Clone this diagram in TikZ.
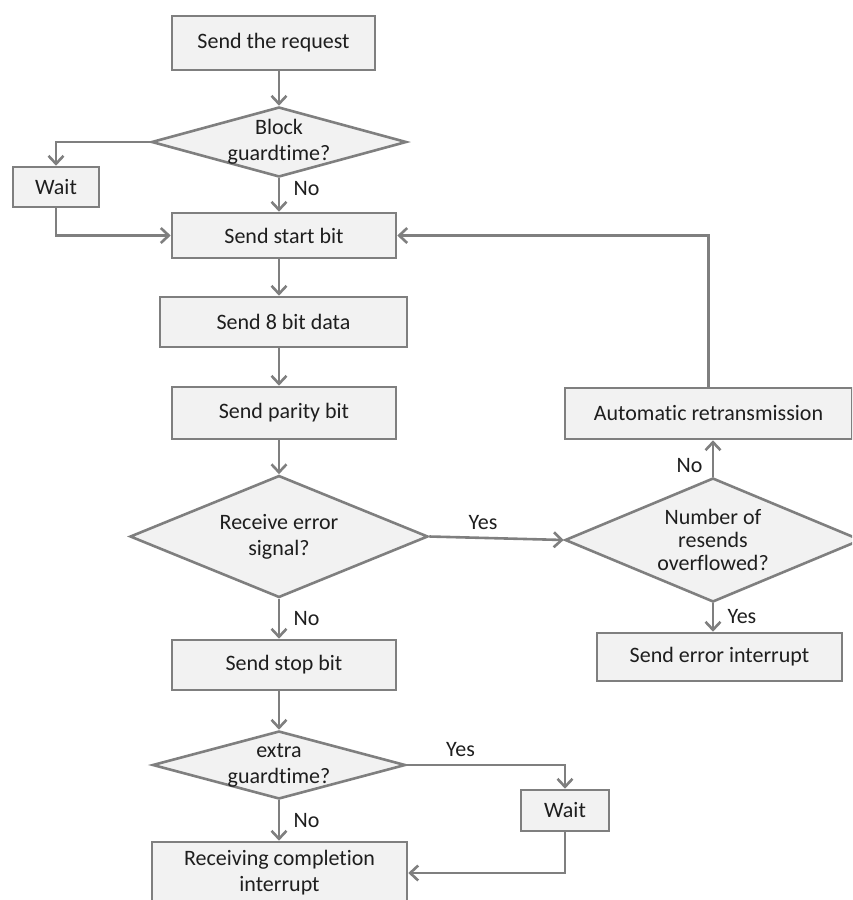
\documentclass[tikz,border=0pt]{standalone}
\usepackage{fontspec}
\setmainfont[Ligatures=NoCommon]{Carlito}
\usepackage{tikz}
\usetikzlibrary{shapes.geometric, arrows.meta}
\definecolor{lineg}{HTML}{7F7F7F}
\definecolor{boxg}{HTML}{F2F2F2}
\definecolor{txtg}{HTML}{1E1E1E}

\begin{document}
\begin{tikzpicture}[x=1pt, y=-1pt, line width=2.6pt,
    >={Straight Barb[length=8pt,width=15pt]},
    box/.style={draw=lineg, fill=boxg, inner sep=0pt, align=center, text=txtg, font=\fontsize{22}{26}\selectfont},
    decision/.style={diamond, draw=lineg, fill=boxg, inner sep=0pt},
    dtxt/.style={align=center, text=txtg, inner sep=0pt, font=\fontsize{22}{26}\selectfont},
    lbl/.style={text=txtg, font=\fontsize{22}{26}\selectfont},
    flow/.style={->, draw=lineg}]
    % Frame
    \clip (0,0) rectangle (852,900);

    % Main column
    \node[box, minimum width=203pt, minimum height=54pt] (req) at (273.5,43) {Send the request};
    \node[decision, minimum width=255pt, minimum height=70pt,
        label={[dtxt, name=blk-t]center:Block\\guardtime?}] (blk) at (279,142) {};
    \node[box, minimum width=86pt, minimum height=40pt] (wait1) at (56,187) {Wait};
    \node[box, minimum width=224pt, minimum height=45pt] (start) at (284,235.5) {Send start bit};
    \node[box, minimum width=247pt, minimum height=50pt] (data) at (283.5,322) {Send 8 bit data};
    \node[box, minimum width=224pt, minimum height=52pt] (par) at (284,413) {Send parity bit};
    \node[decision, minimum width=298pt, minimum height=122pt,
        label={[dtxt, name=rec-t]center:Receive error\\signal?}] (rec) at (279,536.5) {};
    \node[box, minimum width=224pt, minimum height=50pt] (stop) at (284,665) {Send stop bit};
    \node[decision, minimum width=253pt, minimum height=68pt,
        label={[dtxt, name=ext-t]center:extra\\guardtime?}] (ext) at (279,765) {};
    \node[box, minimum width=88pt, minimum height=41pt] (wait2) at (565,810.5) {Wait};
    \node[box, minimum width=255pt, minimum height=62pt] (recv) at (279.5,873) {Receiving completion\\interrupt};

    % Retry column
    \node[box, minimum width=287pt, minimum height=51pt] (auto) at (708.5,413.5) {Automatic retransmission};
    \node[decision, minimum width=296pt, minimum height=124pt,
        label={[dtxt, name=num-t, font=\fontsize{22}{23}\selectfont]center:Number of\\resends\\overflowed?}] (num) at (713,540) {};
    \node[box, minimum width=245pt, minimum height=48pt] (err) at (719.5,657) {Send error interrupt};

    % Connectors
    \draw[flow] (blk.north |- req.south) -- (blk.north);
    \draw[flow] (blk.west) -| (wait1.north);
    \draw[flow] (blk.south) -- (blk.south |- start.north) node[lbl, pos=0.3, right=10pt] {No};
    \draw[flow] (wait1.south) |- (start.west);
    \draw[flow] (blk.south |- start.south) -- (blk.south |- data.north);
    \draw[flow] (blk.south |- data.south) -- (blk.south |- par.north);
    \draw[flow] (rec.north |- par.south) -- (rec.north);
    \draw[flow] (rec.south) -- (rec.south |- stop.north) node[lbl, pos=0.5, right=10pt] {No};
    \draw[flow] (rec.east) -- (num.west) node[lbl, pos=0.4, above=4pt] {Yes};
    \draw[flow] (num.north) -- (num.north |- auto.south) node[lbl, pos=0.3, left=6pt] {No};
    \draw[flow] (auto.north) |- (start.east);
    \draw[flow] (num.south) -- (num.south |- err.north) node[lbl, pos=0.45, right=10pt] {Yes};
    \draw[flow] (ext.north |- stop.south) -- (ext.north);
    \draw[flow] (ext.east) -| (wait2.north) node[lbl, pos=0.17, above=4pt] {Yes};
    \draw[flow] (ext.south) -- (ext.south |- recv.north) node[lbl, pos=0.5, right=10pt] {No};
    \draw[flow] (wait2.south) |- (recv.east);
\end{tikzpicture}
\end{document}
